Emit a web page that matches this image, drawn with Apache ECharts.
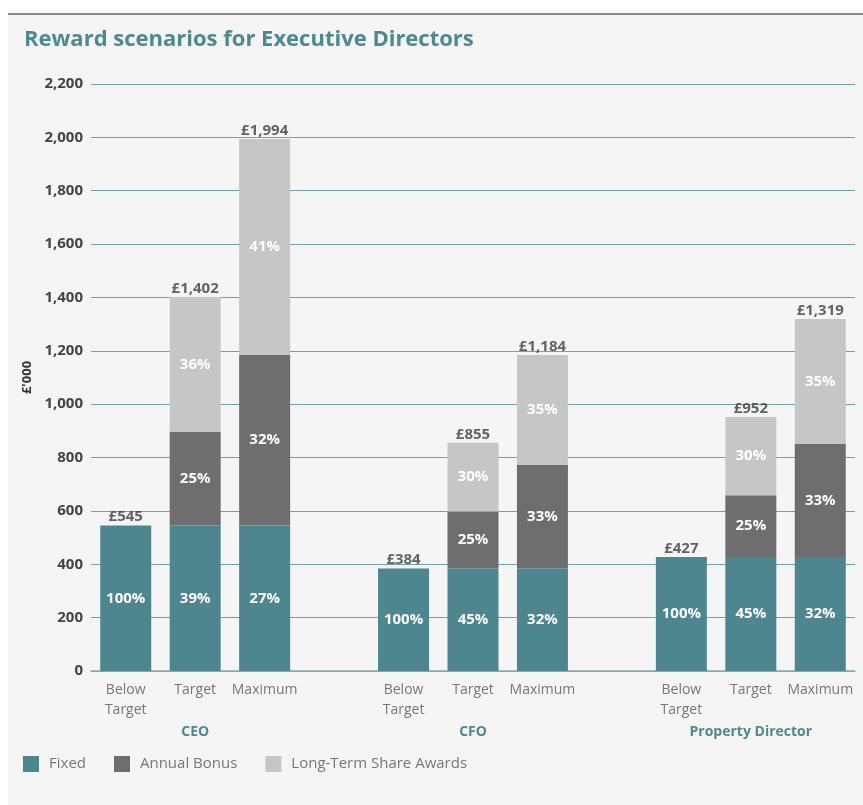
<!DOCTYPE html>
<html>
<head>
<meta charset="utf-8">
<script src="https://cdn.jsdelivr.net/npm/echarts@6/dist/echarts.min.js"></script>
<style>
  html, body { margin: 0; padding: 0; background: #ffffff; }
  #panel { position: absolute; left: 8px; top: 13px; width: 855px; height: 792px; background: #f5f5f5; border-top: 2px solid #8a8a8a; }
  #chart { position: absolute; left: 0; top: 0; width: 863px; height: 805px; }
</style>
</head>
<body>
<div id="panel"></div>
<div id="chart"></div>
<script>
// Category slots (empty slots separate the three directors)
const categories = ['Below\nTarget', 'Target', 'Maximum', '', 'Below\nTarget', 'Target', 'Maximum', '', 'Below\nTarget', 'Target', 'Maximum'];
const groupLabels = ['', 'CEO', '', '', '', 'CFO', '', '', '', 'Property Director', ''];

// Values (£'000)
const fixed       = [545, 545, 545, null, 384, 384, 384, null, 427, 427, 427];
const annualBonus = [null, 352, 640, null, null, 214, 388, null, null, 232, 425];
const longTerm    = [null, 505, 809, null, null, 257, 412, null, null, 293, 467];
const totals      = [545, 1402, 1994, null, 384, 855, 1184, null, 427, 952, 1319];

// Percentage labels shown in segments
const fixedPct  = ['100%', '39%', '27%', '', '100%', '45%', '32%', '', '100%', '45%', '32%'];
const bonusPct  = ['', '25%', '32%', '', '', '25%', '33%', '', '', '25%', '33%'];
const ltPct     = ['', '36%', '41%', '', '', '30%', '35%', '', '', '30%', '35%'];

const yTicks = [0, 200, 400, 600, 800, 1000, 1200, 1400, 1600, 1800, 2000, 2200];

const FONT = '"Open Sans", sans-serif';
const C_FIXED = '#4d868e', C_BONUS = '#6e6e6e', C_LT = '#c6c6c6';

function pctLabel(arr) {
  return { show: true, position: 'inside', color: '#ffffff', fontWeight: 'bold', fontSize: 15, fontFamily: FONT,
           formatter: p => arr[p.dataIndex] };
}

const chart = echarts.init(document.getElementById('chart'), null, { renderer: 'canvas' });
chart.setOption({
  backgroundColor: 'transparent',
  animation: false,
  title: {
    text: 'Reward scenarios for Executive Directors',
    left: 19, top: 24,
    textStyle: { color: '#4a8a91', fontSize: 22, fontWeight: 'bold', fontFamily: FONT }
  },
  legend: {
    left: 18, top: 751,
    itemWidth: 16, itemHeight: 16, itemGap: 28,
    icon: 'rect',
    textStyle: { color: '#777777', fontSize: 15, fontFamily: FONT, padding: [0, 0, 0, 5] },
    data: ['Fixed', 'Annual Bonus', 'Long-Term Share Awards']
  },
  grid: { left: 91, right: 8, top: 84, bottom: 134 },
  xAxis: [
    {
      type: 'category', data: categories, position: 'bottom',
      axisLine: { show: true, lineStyle: { color: '#7fb0b5', width: 1.5 } },
      axisTick: { show: false },
      axisLabel: { color: '#777777', fontSize: 14, fontFamily: FONT, margin: 9, lineHeight: 20, interval: 0 }
    },
    {
      type: 'category', data: groupLabels, position: 'bottom', offset: 45,
      axisLine: { show: false }, axisTick: { show: false },
      axisLabel: { color: '#4a8a91', fontSize: 14, fontWeight: 'bold', fontFamily: FONT, margin: 9, interval: 0 }
    }
  ],
  yAxis: {
    type: 'value', min: 0, max: 2200, interval: 200,
    name: "£'000", nameLocation: 'middle', nameGap: 42, nameRotate: 90,
    nameTextStyle: { color: '#333333', fontSize: 13, fontWeight: 'bold', fontFamily: FONT },
    axisLine: { show: false }, axisTick: { show: false },
    axisLabel: { color: '#444444', fontSize: 15, fontWeight: 'bold', fontFamily: FONT, margin: 8,
                 formatter: v => v.toLocaleString('en-GB') },
    splitLine: { lineStyle: { color: '#6fa4aa', width: 1 } }
  },
  series: [
    { name: 'Fixed', type: 'bar', stack: 'total', data: fixed, barWidth: 51, itemStyle: { color: C_FIXED }, label: pctLabel(fixedPct) },
    { name: 'Annual Bonus', type: 'bar', stack: 'total', data: annualBonus, barWidth: 51, itemStyle: { color: C_BONUS }, label: pctLabel(bonusPct) },
    { name: 'Long-Term Share Awards', type: 'bar', stack: 'total', data: longTerm, barWidth: 51, itemStyle: { color: C_LT }, label: pctLabel(ltPct) },
    {
      name: 'Total', type: 'scatter', data: totals, symbolSize: 0, silent: true,
      label: { show: true, position: 'top', distance: 1, color: '#3d3d3d', fontSize: 15, fontWeight: 'bold', fontFamily: FONT,
               formatter: p => '£' + p.value.toLocaleString('en-GB') }
    }
  ]
});
</script>
</body>
</html>
